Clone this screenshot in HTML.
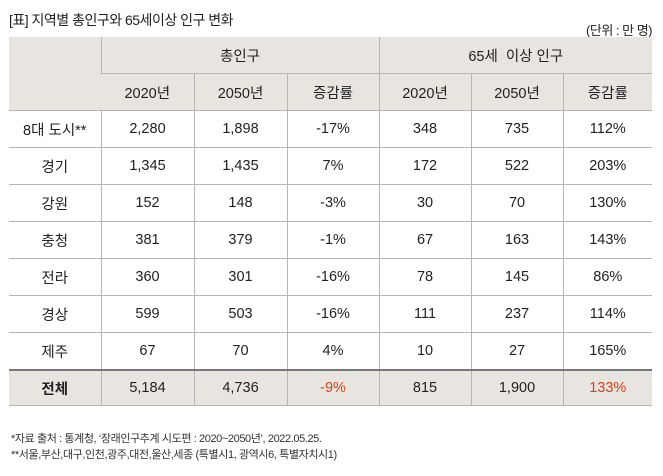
<!DOCTYPE html>
<html><head><meta charset="utf-8"><style>
body{margin:0;background:#fff;width:663px;height:476px;position:relative;font-family:"Liberation Sans","Noto Sans CJK KR",sans-serif;color:#222;overflow:hidden}
.t{position:absolute;left:9px;top:10px;font-size:14px;letter-spacing:-0.5px}
.u{position:absolute;right:11px;top:20px;font-size:13px;letter-spacing:-0.5px}
table{position:absolute;left:9px;top:37px;border-collapse:collapse;width:643px;table-layout:fixed}
td{text-align:center;font-size:14.5px;border-bottom:1px solid #b5b5b5;border-left:1px solid #b5b5b5;height:36px;padding:0}
td:first-child{border-left:none}
tr.h td{background:#e8e5e0}
tr.tot td{background:#e8e5e0;border-top:2px solid #777;height:34px}
.r{color:#d2421b}
.f{position:absolute;left:11px;font-size:11px;color:#333;letter-spacing:-0.4px}
</style></head><body>
<div class="t">[표] 지역별 총인구와 65세이상 인구 변화</div>
<div class="u">(단위 : 만 명)</div>
<table>
<colgroup><col style="width:92px"><col style="width:93px"><col style="width:93px"><col style="width:92px"><col style="width:92px"><col style="width:92px"><col style="width:89px"></colgroup>
<tr class="h"><td rowspan="2"></td><td colspan="3">총인구</td><td colspan="3">65세&nbsp; 이상 인구</td></tr>
<tr class="h"><td>2020년</td><td>2050년</td><td>증감률</td><td>2020년</td><td>2050년</td><td>증감률</td></tr>
<tr><td>8대 도시**</td><td>2,280</td><td>1,898</td><td>-17%</td><td>348</td><td>735</td><td>112%</td></tr>
<tr><td>경기</td><td>1,345</td><td>1,435</td><td>7%</td><td>172</td><td>522</td><td>203%</td></tr>
<tr><td>강원</td><td>152</td><td>148</td><td>-3%</td><td>30</td><td>70</td><td>130%</td></tr>
<tr><td>충청</td><td>381</td><td>379</td><td>-1%</td><td>67</td><td>163</td><td>143%</td></tr>
<tr><td>전라</td><td>360</td><td>301</td><td>-16%</td><td>78</td><td>145</td><td>86%</td></tr>
<tr><td>경상</td><td>599</td><td>503</td><td>-16%</td><td>111</td><td>237</td><td>114%</td></tr>
<tr><td>제주</td><td>67</td><td>70</td><td>4%</td><td>10</td><td>27</td><td>165%</td></tr>
<tr class="tot"><td><b>전체</b></td><td>5,184</td><td>4,736</td><td class="r">-9%</td><td>815</td><td>1,900</td><td class="r">133%</td></tr>
</table>
<div class="f" style="top:430px">*자료 출처 : 통계청, ‘장래인구추계 시도편 : 2020~2050년’, 2022.05.25.</div>
<div class="f" style="top:446px">**서울,부산,대구,인천,광주,대전,울산,세종 (특별시1, 광역시6, 특별자치시1)</div>
</body></html>
